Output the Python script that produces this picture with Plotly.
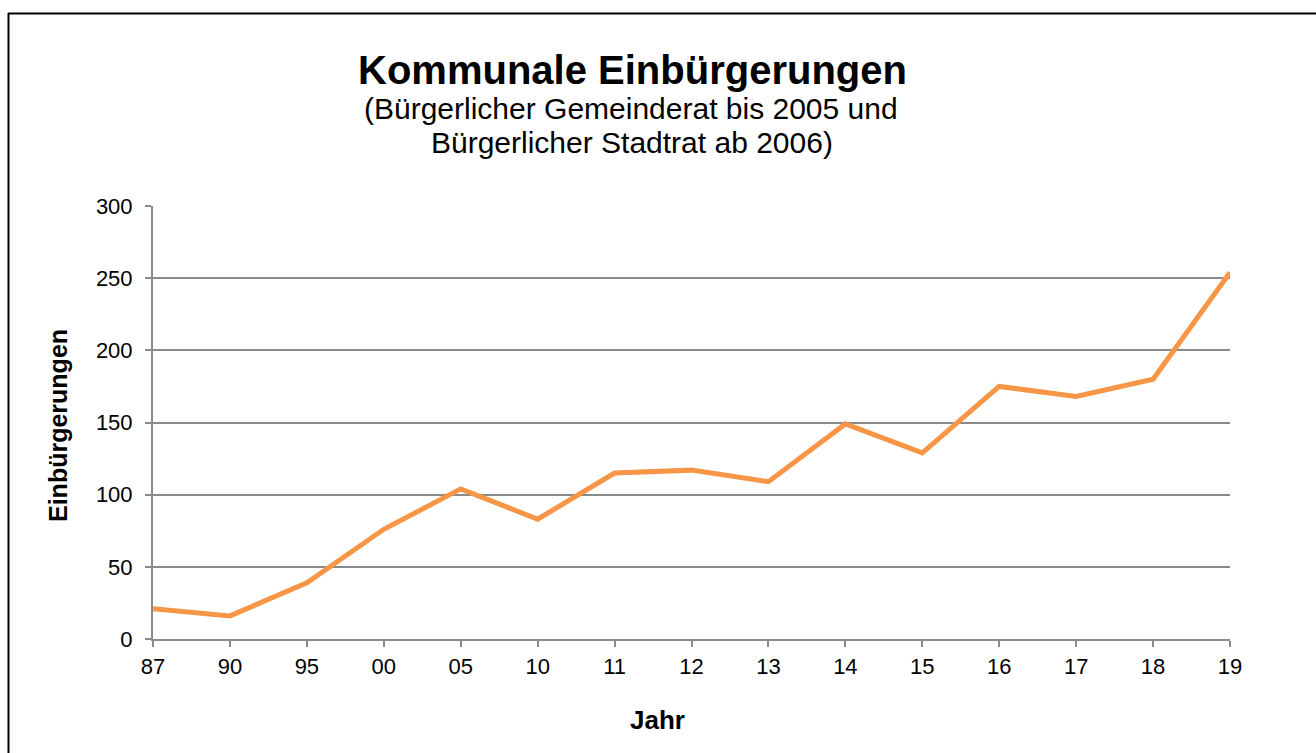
import plotly.graph_objects as go

# Jahre (zweistellig) und kommunale Einbürgerungen
jahre = ["87", "90", "95", "00", "05", "10", "11", "12", "13", "14", "15", "16", "17", "18", "19"]
einbuergerungen = [21, 16, 39, 76, 104, 83, 115, 117, 109, 149, 129, 175, 168, 180, 254]
y_ticks = [0, 50, 100, 150, 200, 250, 300]

W, H = 1316, 753
L, R, T, B = 153, 86, 206, 114
PW, PH = W - L - R, H - T - B


def px_x(px):
    return (px - L) / PW


def px_y(py):
    return (H - B - py) / PH


FONT = "Liberation Sans, Arial, sans-serif"
GRID = "#8a8a8a"

fig = go.Figure(
    go.Scatter(
        x=list(range(len(jahre))),
        y=einbuergerungen,
        mode="lines",
        line=dict(color="#F79646", width=5),
        hoverinfo="skip",
    )
)

fig.update_layout(
    width=W,
    height=H,
    margin=dict(l=L, r=R, t=T, b=B),
    paper_bgcolor="white",
    plot_bgcolor="white",
    showlegend=False,
    font=dict(family=FONT, color="black", size=22),
    xaxis=dict(
        range=[0, len(jahre) - 1],
        tickmode="array",
        tickvals=list(range(len(jahre))),
        ticktext=jahre,
        showgrid=False,
        zeroline=False,
        showline=True,
        linecolor=GRID,
        linewidth=2,
        ticks="outside",
        ticklen=6,
        tickwidth=2,
        tickcolor=GRID,
        tickfont=dict(size=22),
        ticklabelstandoff=1,
        fixedrange=True,
    ),
    yaxis=dict(
        range=[0, 300],
        tickmode="array",
        tickvals=y_ticks,
        showgrid=True,
        gridcolor=GRID,
        gridwidth=1.5,
        zeroline=False,
        showline=True,
        linecolor=GRID,
        linewidth=2,
        ticks="outside",
        ticklen=6,
        tickwidth=1.5,
        tickcolor=GRID,
        tickfont=dict(size=22),
        ticklabelstandoff=8,
        fixedrange=True,
    ),
)

annotations = [
    dict(text="<b>Kommunale Einbürgerungen</b>", x=px_x(632), y=px_y(70), size=40),
    dict(text="(Bürgerlicher Gemeinderat bis 2005 und", x=px_x(631), y=px_y(108), size=30),
    dict(text="Bürgerlicher Stadtrat ab 2006)", x=px_x(632), y=px_y(143), size=30),
    dict(text="<b>Jahr</b>", x=px_x(657), y=px_y(720), size=26),
]
for a in annotations:
    fig.add_annotation(
        text=a["text"], x=a["x"], y=a["y"], xref="paper", yref="paper",
        xanchor="center", yanchor="middle", showarrow=False,
        font=dict(family=FONT, size=a["size"], color="black"),
    )

fig.add_annotation(
    text="<b>Einbürgerungen</b>", x=px_x(58), y=px_y(426), xref="paper", yref="paper",
    xanchor="center", yanchor="middle", showarrow=False, textangle=-90,
    font=dict(family=FONT, size=25, color="black"),
)

# Rahmen um das Diagramm
fig.add_shape(type="line", xref="paper", yref="paper",
              x0=px_x(8.5), x1=px_x(8.5), y0=px_y(13), y1=px_y(800),
              line=dict(color="black", width=2))
fig.add_shape(type="line", xref="paper", yref="paper",
              x0=px_x(8), x1=px_x(1400), y0=px_y(13.5), y1=px_y(13.5),
              line=dict(color="black", width=2))

fig.write_html("out.html")
